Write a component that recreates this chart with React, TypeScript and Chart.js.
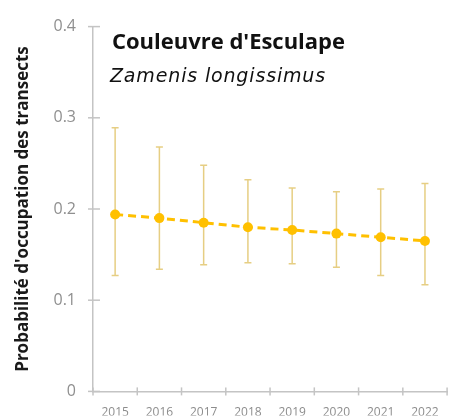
import React, { useEffect, useRef } from "react";
import { Chart, registerables } from "chart.js";

Chart.register(...registerables);

const years = ["2015", "2016", "2017", "2018", "2019", "2020", "2021", "2022"];
const occupancy = [0.194, 0.19, 0.185, 0.18, 0.177, 0.173, 0.169, 0.165];
const upper = [0.289, 0.268, 0.248, 0.232, 0.223, 0.219, 0.222, 0.228];
const lower = [0.127, 0.134, 0.139, 0.141, 0.14, 0.136, 0.127, 0.117];
const yTicks = [0, 0.1, 0.2, 0.3, 0.4];

const titleText = "Couleuvre d'Esculape";
const subtitleText = "Zamenis longissimus";
const yTitle = "Probabilité d'occupation des transects";

const AXIS = "#c4c4c4";

const decorPlugin = {
  id: "decor",
  beforeDatasetsDraw(chart: any) {
    const ctx = chart.ctx;
    const y = chart.scales.y;
    const meta = chart.getDatasetMeta(0);
    const area = chart.chartArea;
    ctx.save();
    ctx.strokeStyle = AXIS;
    ctx.lineWidth = 1.5;
    yTicks.forEach((v) => {
      const py = y.getPixelForValue(v);
      ctx.beginPath();
      ctx.moveTo(area.left - 5, py);
      ctx.lineTo(area.left + 7, py);
      ctx.stroke();
    });
    for (let i = 0; i <= years.length; i++) {
      const px = area.left + ((area.right - area.left) * i) / years.length;
      ctx.beginPath();
      ctx.moveTo(px, area.bottom - 4);
      ctx.lineTo(px, area.bottom + 4);
      ctx.stroke();
    }
    ctx.strokeStyle = "rgba(222, 190, 90, 0.75)";
    ctx.lineWidth = 1.5;
    meta.data.forEach((pt: any, i: number) => {
      const px = pt.x;
      const yt = y.getPixelForValue(upper[i]);
      const yb = y.getPixelForValue(lower[i]);
      ctx.beginPath();
      ctx.moveTo(px, yt);
      ctx.lineTo(px, yb);
      ctx.moveTo(px - 3.5, yt);
      ctx.lineTo(px + 3.5, yt);
      ctx.moveTo(px - 3.5, yb);
      ctx.lineTo(px + 3.5, yb);
      ctx.stroke();
    });
    ctx.restore();
  },
  afterDraw(chart: any) {
    const ctx = chart.ctx;
    const area = chart.chartArea;
    ctx.save();
    ctx.fillStyle = "#111";
    ctx.textAlign = "left";
    ctx.textBaseline = "alphabetic";
    ctx.font = "bold 22px 'Open Sans'";
    const tw = ctx.measureText(titleText).width;
    const tls = Math.max(-1, Math.min(1.5, (233 - tw) / titleText.length));
    (ctx as any).letterSpacing = tls + "px";
    ctx.fillText(titleText, area.left + 19, 49);
    ctx.font = "oblique 19px 'DejaVu Sans'";
    (ctx as any).letterSpacing = "0px";
    const sw = ctx.measureText(subtitleText).width;
    const sls = Math.max(-1, Math.min(2.5, (216 - sw) / subtitleText.length));
    (ctx as any).letterSpacing = sls + "px";
    ctx.fillText(subtitleText, area.left + 17, 82);
    ctx.restore();
  },
};

export default function App() {
  const ref = useRef<HTMLCanvasElement | null>(null);
  useEffect(() => {
    if (!ref.current) return;
    const chart = new Chart(ref.current, {
      type: "line",
      data: {
        labels: years,
        datasets: [
          {
            data: occupancy,
            borderColor: "#FFC000",
            backgroundColor: "#FFC000",
            borderWidth: 3,
            borderDash: [8, 5],
            pointRadius: 5,
            pointBackgroundColor: "#FFC000",
            pointBorderWidth: 0,
            tension: 0,
          },
        ],
      },
      options: {
        responsive: false,
        animation: false,
        layout: { padding: { top: 22.5, right: 5, left: 0, bottom: 0 } },
        plugins: { legend: { display: false }, tooltip: { enabled: false } },
        scales: {
          x: {
            offset: true,
            grid: { display: false, drawTicks: false, offset: true },
            border: { color: AXIS, width: 1.5 },
            ticks: {
              color: "#8c8c8c",
              font: { family: "'Open Sans'", size: 12 },
              padding: 14,
              maxRotation: 0,
            },
            afterFit: (s: any) => {
              s.height = 24;
            },
          },
          y: {
            min: 0,
            max: 0.4,
            grid: { display: false, drawTicks: false },
            border: { color: AXIS, width: 1.5 },
            ticks: {
              stepSize: 0.1,
              color: "#8f8f8f",
              font: { family: "'Open Sans'", size: 16 },
              padding: 17,
            },
            title: {
              display: true,
              text: yTitle,
              color: "#1a1a1a",
              font: { family: "'Open Sans'", size: 17, weight: "bold" },
              padding: { top: 13, bottom: 0 },
            },
            afterFit: (s: any) => {
              s.width = 93;
            },
          },
        },
      },
      plugins: [decorPlugin],
    });
    return () => chart.destroy();
  }, []);
  return (
    <div style={{ position: "absolute", left: 0, top: 0, width: 453, height: 418, background: "#fff" }}>
      <canvas ref={ref} width={453} height={418} />
    </div>
  );
}
